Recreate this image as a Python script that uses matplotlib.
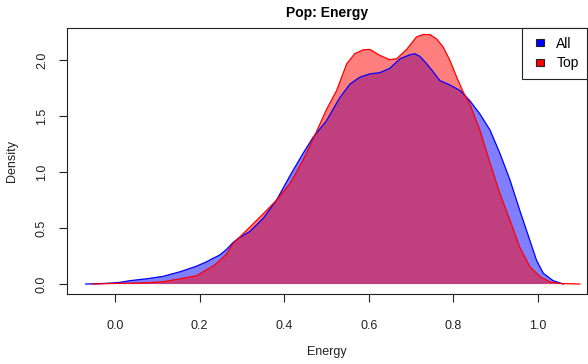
import numpy as np
import matplotlib
matplotlib.use('Agg')
from matplotlib import pyplot as plt
from matplotlib.patches import Patch, Rectangle
from matplotlib.legend_handler import HandlerPatch

plt.rcParams['font.family'] = ['Liberation Sans', 'DejaVu Sans']
plt.rcParams['font.size'] = 9


#---- Density curves of the energy feature

# all tracks
energy_all = [-0.069, -0.040, -0.012, 0.012, 0.035, 0.075, 0.113, 0.154, 0.193,
              0.217, 0.232, 0.248, 0.264, 0.279, 0.292, 0.319, 0.351, 0.382,
              0.414, 0.445, 0.469, 0.500, 0.532, 0.556, 0.579, 0.603, 0.626,
              0.650, 0.674, 0.697, 0.709, 0.721, 0.737, 0.752, 0.768, 0.792,
              0.816, 0.839, 0.863, 0.887, 0.910, 0.934, 0.957, 0.981, 0.997,
              1.013, 1.036, 1.060]
dens_all = [0.0, 0.003, 0.008, 0.015, 0.030, 0.047, 0.068, 0.110, 0.160,
            0.200, 0.230, 0.260, 0.310, 0.370, 0.410, 0.470, 0.590, 0.750,
            0.970, 1.170, 1.315, 1.460, 1.670, 1.790, 1.850, 1.880, 1.890,
            1.930, 2.015, 2.050, 2.060, 2.036, 1.970, 1.900, 1.820, 1.780,
            1.730, 1.640, 1.520, 1.375, 1.170, 0.930, 0.660, 0.390, 0.210,
            0.095, 0.030, 0.0]

# top tracks
energy_top = [-0.054, -0.012, 0.035, 0.075, 0.113, 0.154, 0.193, 0.217, 0.232,
              0.248, 0.264, 0.279, 0.303, 0.319, 0.351, 0.382, 0.414, 0.445,
              0.475, 0.500, 0.524, 0.548, 0.567, 0.587, 0.603, 0.626, 0.650,
              0.666, 0.690, 0.713, 0.729, 0.745, 0.761, 0.776, 0.792, 0.808,
              0.823, 0.839, 0.863, 0.887, 0.910, 0.934, 0.957, 0.981, 1.005,
              1.028, 1.052, 1.099]
dens_top = [0.0, 0.005, 0.008, 0.012, 0.020, 0.047, 0.074, 0.130, 0.160,
            0.210, 0.270, 0.360, 0.450, 0.510, 0.630, 0.750, 0.900, 1.110,
            1.350, 1.560, 1.730, 1.970, 2.060, 2.095, 2.098, 2.045, 2.006,
            2.015, 2.100, 2.210, 2.232, 2.230, 2.190, 2.120, 2.000, 1.850,
            1.720, 1.610, 1.375, 1.080, 0.810, 0.570, 0.330, 0.155, 0.065,
            0.020, 0.005, 0.0]

xticks = [0.0, 0.2, 0.4, 0.6, 0.8, 1.0]
yticks = [0.0, 0.5, 1.0, 1.5, 2.0]


def draw_density(ax, x, y, color):
    # filled polygon closed along zero, outline only on the curve itself
    ax.fill(np.r_[x, x[-1], x[0]], np.r_[y, 0.0, 0.0],
            facecolor=color, alpha=0.5, edgecolor='none')
    ax.plot(x, y, color=color, lw=0.9)


def small_box(legend, orig_handle, xdescent, ydescent, width, height, fontsize):
    w, h = 5.8, 5.2
    return Rectangle((width - w - xdescent, (height - h) / 2 - ydescent), w, h)


fig = plt.figure(figsize=(5.88, 3.64), dpi=100)
ax = fig.add_axes([66.7/588, 1 - 294/364, (587 - 66.7)/588, (294 - 28.3)/364])

draw_density(ax, np.array(energy_all), np.array(dens_all), 'blue')
draw_density(ax, np.array(energy_top), np.array(dens_top), 'red')

ax.set_xlim(-0.114, 1.116)
ax.set_ylim(-0.089, 2.287)
ax.set_xticks(xticks)
ax.set_xticklabels(['%.1f' % v for v in xticks])
ax.set_yticks(yticks)
ax.set_yticklabels(['%.1f' % v for v in yticks])

for s in ax.spines.values():
    s.set_linewidth(0.8)
    s.set_color('#222222')

ax.tick_params(axis='both', length=5.5, width=0.8, color='#222222',
               labelcolor='#222222', labelsize=9)
ax.tick_params(axis='x', pad=13)
ax.tick_params(axis='y', pad=8, labelrotation=90)
for lbl in ax.get_yticklabels():
    lbl.set_va('center')

ax.set_title('Pop: Energy', fontweight='bold', fontsize=10, pad=8)
ax.set_xlabel('Energy', va='center', color='#222222')
ax.xaxis.set_label_coords(0.5, -0.218)
ax.set_ylabel('Density', va='center', color='#222222')
ax.yaxis.set_label_coords(-0.106, 0.5)

handles = [Patch(facecolor='blue', edgecolor='#222222', lw=0.8),
           Patch(facecolor='red', edgecolor='#222222', lw=0.8)]
leg = ax.legend(handles, ['All', 'Top'], loc='upper right', fancybox=False,
                framealpha=1, edgecolor='#222222', borderaxespad=0,
                handlelength=1.0, handleheight=0.7, handletextpad=0.9,
                labelspacing=0.4, borderpad=0.6, fontsize=10,
                handler_map={Patch: HandlerPatch(patch_func=small_box)})
leg.get_frame().set_linewidth(0.8)

fig.savefig('out.png', dpi=100)
